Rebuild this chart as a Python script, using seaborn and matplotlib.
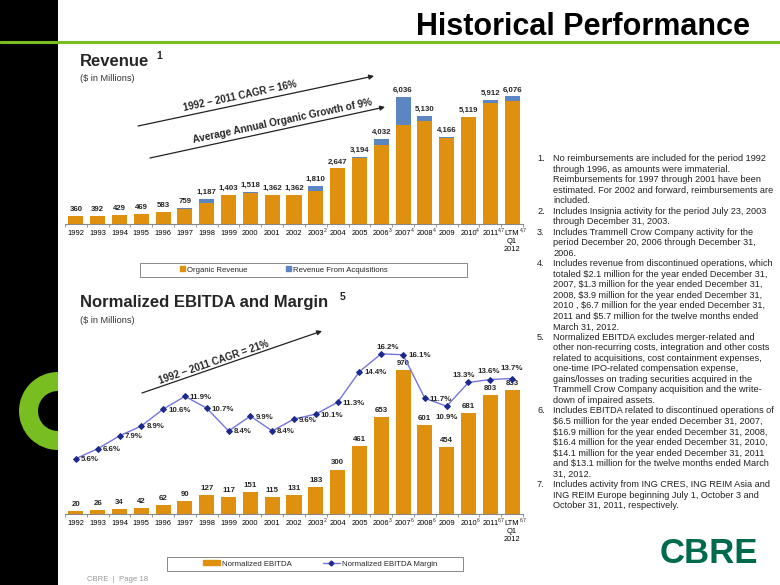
import numpy as np
import pandas as pd
import matplotlib
matplotlib.use("Agg")
import matplotlib.pyplot as plt
import seaborn as sns
from matplotlib.patches import Rectangle, Wedge, Patch
from matplotlib.lines import Line2D

# ---------------- data ----------------
years = ["1992", "1993", "1994", "1995", "1996", "1997", "1998", "1999", "2000", "2001",
         "2002", "2003", "2004", "2005", "2006", "2007", "2008", "2009", "2010", "2011",
         "LTM\nQ1\n2012"]
revenue_total = [360, 392, 429, 469, 583, 759, 1187, 1403, 1518, 1362, 1362, 1810, 2647,
                 3194, 4032, 6036, 5130, 4166, 5119, 5912, 6076]
revenue_acquisitions = [0, 0, 0, 15, 15, 25, 190, 20, 20, 0, 0, 260, 0, 30, 250, 1340,
                        220, 50, 40, 130, 220]
revenue_organic = [t - a for t, a in zip(revenue_total, revenue_acquisitions)]
ebitda = [20, 26, 34, 42, 62, 90, 127, 117, 151, 115, 131, 183, 300, 461, 653, 970, 601,
          454, 681, 803, 833]
ebitda_margin = [5.6, 6.6, 7.9, 8.9, 10.6, 11.9, 10.7, 8.4, 9.9, 8.4, 9.6, 10.1, 11.3, 14.4,
                 16.2, 16.1, 11.7, 10.9, 13.3, 13.6, 13.7]
rev_notes = {11: "2", 14: "3", 15: "4", 16: "4", 18: "4", 19: "4,7", 20: "4,7"}
ebitda_notes = {11: "2", 14: "3", 15: "6", 16: "6", 18: "6", 19: "6,7", 20: "6,7"}

footnotes = [
    ["No reimbursements are included for the period 1992",
     "through 1996, as amounts were immaterial.",
     "Reimbursements for 1997 through 2001 have been",
     "estimated. For 2002 and forward, reimbursements are",
     "included."],
    ["Includes Insignia activity for the period July 23, 2003",
     "through December 31, 2003."],
    ["Includes Trammell Crow Company activity for the",
     "period December 20, 2006 through December 31,",
     "2006."],
    ["Includes revenue from discontinued operations, which",
     "totaled $2.1 million for the year ended December 31,",
     "2007, $1.3 million for the year ended December 31,",
     "2008, $3.9 million for the year ended December 31,",
     "2010 , $6.7 million for the year ended December 31,",
     "2011 and $5.7 million for the twelve months ended",
     "March 31, 2012."],
    ["Normalized EBITDA excludes merger-related and",
     "other non-recurring costs, integration and other costs",
     "related to acquisitions, cost containment expenses,",
     "one-time IPO-related compensation expense,",
     "gains/losses on trading securities acquired in the",
     "Trammell Crow Company acquisition and the write-",
     "down of impaired assets."],
    ["Includes EBITDA related to discontinued operations of",
     "$6.5 million for the year ended December 31, 2007,",
     "$16.9 million for the year ended December 31, 2008,",
     "$16.4 million for the year ended December 31, 2010,",
     "$14.1 million for the year ended December 31, 2011",
     "and $13.1 million for the twelve months ended March",
     "31, 2012."],
    ["Includes activity from ING CRES, ING REIM Asia and",
     "ING REIM Europe beginning July 1, October 3 and",
     "October 31, 2011, respectively."],
]

# ---------------- style ----------------
sns.set_theme(style="white")
plt.rcParams["font.family"] = ["Liberation Sans", "DejaVu Sans"]
plt.rcParams["mathtext.default"] = "regular"

ORANGE = "#E0900F"
BLUE = "#5B86C2"
LINE = "#7575DA"
NAVY = "#1C2A8C"
GREEN = "#78BE20"

W, H = 780, 585
fig = plt.figure(figsize=(7.8, 5.85), dpi=100)
fig.patch.set_facecolor("white")


def fx(x):
    return x / W


def fy(y):
    return 1 - y / H


# decorations
fig.add_artist(Rectangle((0, 0), fx(58), 1, transform=fig.transFigure,
                         facecolor="black", edgecolor="none", zorder=0))
fig.add_artist(Wedge((0.58, (H - 411) / 100), 0.39, 90, 270, width=0.19,
                     transform=fig.dpi_scale_trans, facecolor=GREEN, edgecolor="none"))
fig.add_artist(Line2D([0, 1], [fy(42), fy(42)], transform=fig.transFigure,
                      color=GREEN, lw=2.2))
fig.text(fx(750), fy(35), "Historical Performance", ha="right", va="baseline",
         fontsize=22, fontweight="bold", color="black")

fig.text(fx(80), fy(66), "Revenue", fontsize=12, fontweight="bold", va="baseline")
fig.text(fx(156), fy(59), "1", fontsize=7.5, fontweight="bold", va="baseline")
fig.text(fx(80), fy(81), "($ in Millions)", fontsize=6.6, color="#333333", va="baseline")
fig.text(fx(80), fy(307), "Normalized EBITDA and Margin", fontsize=12, fontweight="bold",
         va="baseline")
fig.text(fx(340), fy(300), "5", fontsize=7.5, fontweight="bold", va="baseline")
fig.text(fx(80), fy(323), "($ in Millions)", fontsize=6.6, color="#333333", va="baseline")

n = len(years)
pos = np.arange(n)


def style_axis(ax, ymax):
    ax.set_xlim(-0.5, n - 0.5)
    ax.set_ylim(0, ymax)
    ax.set_xticks(pos)
    ax.set_xticklabels(years, fontsize=5.4, color="black")
    for t in ax.get_xticklabels():
        t.set_linespacing(1.25)
    ax.set_xticks(np.arange(-0.5, n), minor=True)
    ax.tick_params(axis="x", which="major", length=0, pad=4.2)
    ax.tick_params(axis="x", which="minor", length=2.5, width=0.6, color="#888888",
                   direction="out", bottom=True)
    ax.set_yticks([])
    ax.set_xlabel("")
    ax.set_ylabel("")
    for s in ["top", "right", "left"]:
        ax.spines[s].set_visible(False)
    ax.spines["bottom"].set_color("#888888")
    ax.spines["bottom"].set_linewidth(0.8)
    ax.set_facecolor("none")


# ---------------- revenue chart ----------------
ax1 = fig.add_axes([fx(65), fy(224), fx(523) - fx(65), (224 - 77) / H])
df_rev = pd.DataFrame({"pos": pos, "total": revenue_total, "organic": revenue_organic})
sns.barplot(data=df_rev, x="pos", y="total", native_scale=True, width=0.69, color=BLUE,
            saturation=1, errorbar=None, ax=ax1, edgecolor="none")
sns.barplot(data=df_rev, x="pos", y="organic", native_scale=True, width=0.69, color=ORANGE,
            saturation=1, errorbar=None, ax=ax1, edgecolor="none")
style_axis(ax1, 7000)
for i, v in enumerate(revenue_total):
    ax1.annotate(f"{v:,}", (i, v), xytext=(0, 2.2), textcoords="offset points",
                 ha="center", va="bottom", fontsize=5.7, fontweight="bold")
for i, s in rev_notes.items():
    ax1.annotate(s, xy=(i + 0.36, 0), xycoords=("data", "axes fraction"),
                 xytext=(0, -4.5), textcoords="offset points", fontsize=3.6,
                 ha="left", va="center")

fig.add_artist(Rectangle((fx(140), fy(277)), fx(467) - fx(140), 14 / H,
                         transform=fig.transFigure, fill=False, edgecolor="#888888", lw=0.7))
fig.legend(handles=[Patch(color=ORANGE, label="Organic Revenue"),
                    Patch(color=BLUE, label="Revenue From Acquisitions")],
           loc="center", bbox_to_anchor=(fx(284), fy(270)), ncol=2, frameon=False,
           fontsize=5.6, handlelength=0.6, handleheight=0.6, handletextpad=0.3,
           columnspacing=5.0, borderpad=0, borderaxespad=0)

# arrows revenue
arrow_kw = dict(arrowstyle="-|>", color="#222222", lw=0.9, mutation_scale=7,
                shrinkA=0, shrinkB=0)
fig.add_artist(plt.Annotation("", xy=(374, H - 76), xytext=(138, H - 126),
                              xycoords="figure pixels", textcoords="figure pixels",
                              arrowprops=arrow_kw))
fig.text(fx(240), fy(96), "1992 \u2013 2011 CAGR = 16%", rotation=12, rotation_mode="anchor",
         ha="center", va="center", fontsize=7, fontweight="bold")
fig.add_artist(plt.Annotation("", xy=(385, H - 107), xytext=(150, H - 158),
                              xycoords="figure pixels", textcoords="figure pixels",
                              arrowprops=arrow_kw))
fig.text(fx(282), fy(121), "Average Annual Organic Growth of 9%", rotation=12,
         rotation_mode="anchor", ha="center", va="center", fontsize=7.2, fontweight="bold")

# ---------------- EBITDA chart ----------------
ax2 = fig.add_axes([fx(65), fy(514), fx(523) - fx(65), 178 / H])
df_eb = pd.DataFrame({"pos": pos, "ebitda": ebitda, "margin": ebitda_margin})
sns.barplot(data=df_eb, x="pos", y="ebitda", native_scale=True, width=0.69, color=ORANGE,
            saturation=1, errorbar=None, ax=ax2, edgecolor="none")
style_axis(ax2, 1200)
for i, v in enumerate(ebitda):
    ax2.annotate(f"{v:,}", (i, v), xytext=(0, 2.2), textcoords="offset points",
                 ha="center", va="bottom", fontsize=5.7, fontweight="bold")
for i, s in ebitda_notes.items():
    ax2.annotate(s, xy=(i + 0.36, 0), xycoords=("data", "axes fraction"),
                 xytext=(0, -4.5), textcoords="offset points", fontsize=3.6,
                 ha="left", va="center")

ax3 = ax2.twinx()
sns.lineplot(data=df_eb, x="pos", y="margin", ax=ax3, color=LINE, lw=1.0, marker="D",
             markersize=3, markerfacecolor=NAVY, markeredgecolor=NAVY)
ax3.set_ylim(0, 18)
ax3.set_xlim(-0.5, n - 0.5)
ax3.set_yticks([])
ax3.set_ylabel("")
ax3.set_xlabel("")
for s in ax3.spines.values():
    s.set_visible(False)

special = {14: ((4.8, 4.5), "center"), 17: ((0, -8), "center"),
           18: ((-3.1, 4.8), "center"), 19: ((-1.2, 6), "center"),
           20: ((0, 7), "center")}
for i, m in enumerate(ebitda_margin):
    off, ha = special.get(i, ((3.6, -0.7), "left"))
    ax3.annotate(f"{m:.1f}%", (i, m), xytext=off, textcoords="offset points",
                 ha=ha, va="center", fontsize=5.7, fontweight="bold")

fig.add_artist(plt.Annotation("", xy=(322, H - 331), xytext=(142, H - 393),
                              xycoords="figure pixels", textcoords="figure pixels",
                              arrowprops=arrow_kw))
fig.text(fx(214), fy(362), "1992 \u2013 2011 CAGR = 21%", rotation=19, rotation_mode="anchor",
         ha="center", va="center", fontsize=7, fontweight="bold")

fig.add_artist(Rectangle((fx(167), fy(571)), fx(463) - fx(167), 14 / H,
                         transform=fig.transFigure, fill=False, edgecolor="#888888", lw=0.7))
fig.legend(handles=[Patch(color=ORANGE, label="Normalized EBITDA"),
                    Line2D([], [], color=LINE, lw=1, marker="D", markersize=2.5,
                           markerfacecolor=NAVY, markeredgecolor=NAVY,
                           label="Normalized EBITDA Margin")],
           loc="center", bbox_to_anchor=(fx(320), fy(564)), ncol=2, frameon=False,
           fontsize=5.6, handlelength=2.2, handleheight=0.55, handletextpad=0.3,
           columnspacing=4.0, borderpad=0, borderaxespad=0)

# ---------------- footnotes ----------------
y = 161.0
pitch = 10.52
for k, lines in enumerate(footnotes, start=1):
    fig.text(fx(537), fy(y), f"{k}.", fontsize=6.6, color="#222222", va="baseline")
    for line in lines:
        fig.text(fx(553), fy(y), line, fontsize=6.6, color="#222222", va="baseline")
        y += pitch

fig.text(fx(660), fy(563), "CBRE", fontsize=25, fontweight="bold", color="#006A4D",
         va="baseline")
fig.text(fx(87), fy(581), "CBRE  |  Page 18", fontsize=5.6, color="#999999", va="baseline")

fig.savefig("out.png", dpi=100)
